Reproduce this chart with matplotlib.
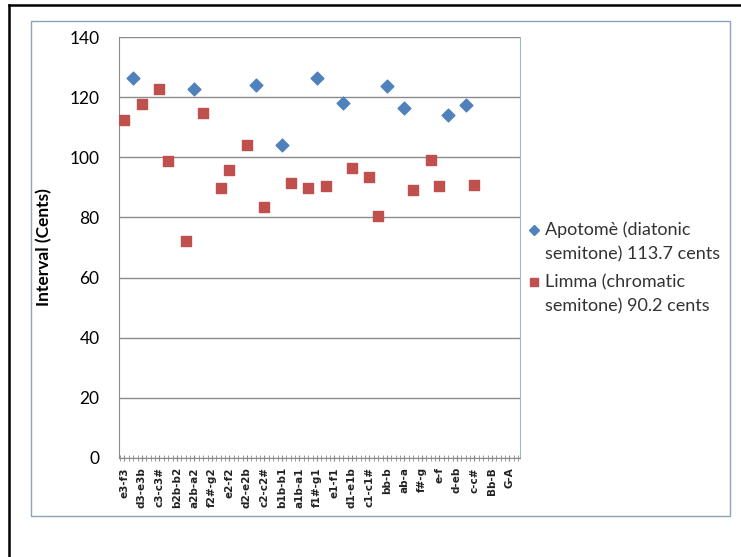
import numpy as np
import matplotlib
matplotlib.use('Agg')
import matplotlib.pyplot as plt
from matplotlib.lines import Line2D
from matplotlib.patches import Rectangle

# category labels (every other slot of the axis is labelled)
labels = ['e3-f3', 'd3-e3b', 'c3-c3#', 'b2b-b2', 'a2b-a2', 'f2#-g2', 'e2-f2',
          'd2-e2b', 'c2-c2#', 'b1b-b1', 'a1b-a1', 'f1#-g1', 'e1-f1', 'd1-e1b',
          'c1-c1#', 'bb-b', 'ab-a', 'f#-g', 'e-f', 'd-eb', 'c-c#', 'Bb-B', 'G-A']

# point positions (in label units) and values
apotome_x = [0.5, 4.0, 7.5, 9.0, 11.0, 12.5, 15.0, 16.0, 18.5, 19.5]
apotome = [126.2, 122.8, 124.2, 104.2, 126.3, 118.2, 123.8, 116.5, 113.9, 117.5]

limma_x = [0.0, 1.0, 2.0, 2.5, 3.5, 4.5, 5.5, 6.0, 7.0, 8.0, 9.5, 10.5,
           11.5, 13.0, 14.0, 14.5, 16.5, 17.5, 18.0, 20.0]
limma = [112.5, 117.8, 122.6, 98.8, 72.0, 114.8, 89.7, 95.7, 104.2, 83.4,
         91.5, 89.8, 90.4, 96.6, 93.5, 80.4, 89.2, 99.0, 90.5, 90.9]

series_names = [['Apotomè (diatonic', 'semitone) 113.7 cents'],
                ['Limma (chromatic', 'semitone) 90.2 cents']]

blue = '#4f81bd'
red = '#c0504d'

fig = plt.figure(figsize=(7.41, 5.57), dpi=100)
W, H = 741.0, 557.0

# outer black frame (top and left) and inner chart-area border
fig.add_artist(Line2D([9/W, 1], [1 - 5/H, 1 - 5/H], color='black', lw=1.8))
fig.add_artist(Line2D([9/W, 9/W], [0, 1 - 5/H], color='black', lw=1.8))
fig.add_artist(Rectangle((31/W, 1 - 516/H), 699/W, 495/H, fill=False,
                         edgecolor='#8da3b8', lw=1.0))

ax = fig.add_axes([119/W, 1 - 458/H, 401/W, 421/H])

ax.scatter(apotome_x, apotome, marker='D', s=42, color=blue, zorder=3)
ax.scatter(limma_x, limma, marker='s', s=48, color=red, zorder=3)

ax.set_ylim(0, 140)
ax.set_xlim(-0.31, 22.6)
ax.set_yticks(range(0, 141, 20))
ax.yaxis.grid(True, color='#8a8a8a', lw=1)
ax.set_axisbelow(True)
ax.tick_params(axis='y', length=0, pad=14, labelsize=12.5)
for t in ax.get_yticklabels():
    t.set_fontfamily('Lato')

ax.set_xticks(range(len(labels)))
ax.set_xticklabels(labels, rotation=90, fontsize=7.5, fontweight='bold',
                   fontfamily='DejaVu Sans', color='#222222')
ax.set_xticks(np.arange(-0.25, 22.6, 0.25), minor=True)
ax.tick_params(axis='x', which='both', direction='inout', length=5,
               color='#8a8a8a', pad=4)

ax.spines['top'].set_visible(False)
ax.spines['left'].set_color('#8a8a8a')
ax.spines['bottom'].set_color('#8a8a8a')
ax.spines['right'].set_color('#9fb5cc')

ax.set_ylabel('Interval (Cents)', fontsize=12.5, fontweight='bold',
              fontfamily='Lato', labelpad=12)

# legend drawn by hand: marker next to the first line of each entry
for (l1, l2), col, mk, ms, y0 in zip(series_names, [blue, red], ['D', 's'],
                                     [5, 5.5], [230, 282]):
    fig.add_artist(Line2D([534/W], [1 - y0/H], marker=mk, color=col,
                          markersize=ms, linestyle='none'))
    fig.text(545/W, 1 - y0/H, l1, fontsize=13, fontfamily='Lato',
             color='#333333', va='center')
    fig.text(545/W, 1 - (y0 + 24)/H, l2, fontsize=13, fontfamily='Lato',
             color='#333333', va='center')

fig.savefig('out.png', dpi=100)
